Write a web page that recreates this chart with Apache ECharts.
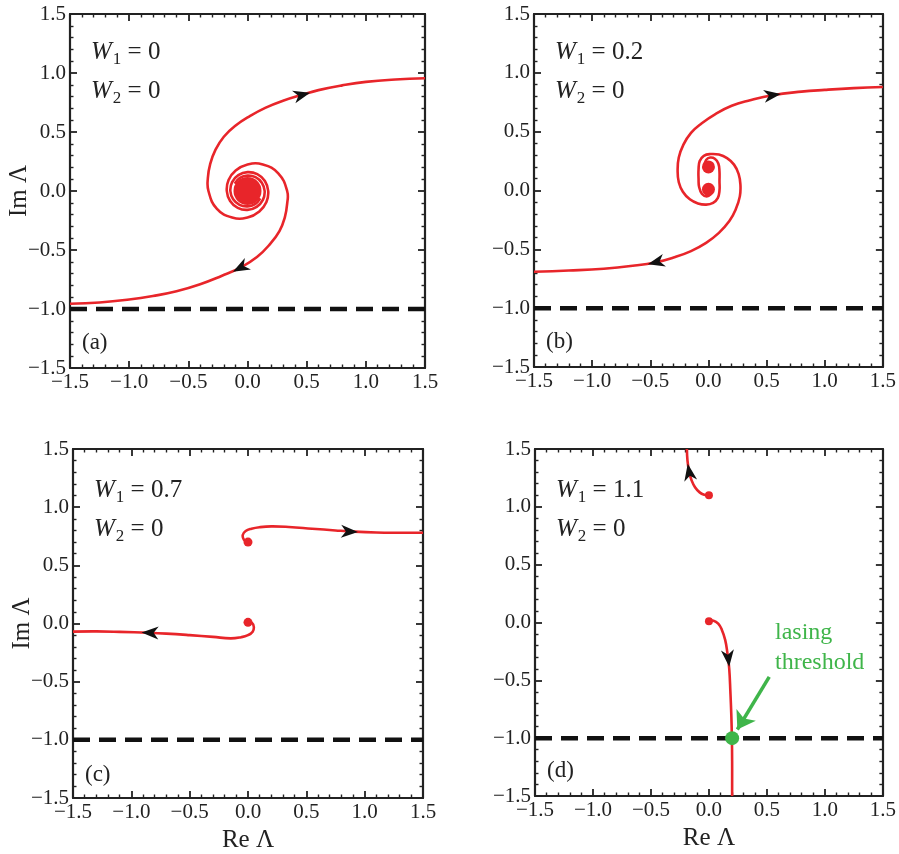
<!DOCTYPE html>
<html><head><meta charset="utf-8">
<script src="https://cdn.jsdelivr.net/npm/echarts/dist/echarts.min.js"></script>
<style>html,body{margin:0;padding:0;background:#fff}#c{width:899px;height:854px}</style>
</head><body><div id="c"></div>
<script>
// ---- data ----
const tickValues = [-1.5, -1.0, -0.5, 0, 0.5, 1.0, 1.5];
const tickLabels = ['\u22121.5', '\u22121.0', '\u22120.5', '0.0', '0.5', '1.0', '1.5'];
const panelTags = ['(a)', '(b)', '(c)', '(d)'];
const w1Values = ['0', '0.2', '0.7', '1.1'];
const w2Values = ['0', '0', '0', '0'];
const thresholdLevel = -1.0;
const xLabel = 'Re \u039B';
const yLabel = 'Im \u039B';
const noteLines = ['lasing', 'threshold'];

// (a) W1 = 0
const aArm1 = [[1.5,0.955],[1.25,0.945],[1.0,0.925],[0.8,0.895],[0.6,0.855],[0.46,0.815],[0.3,0.765],[0.15,0.705],[0.02,0.635],[-0.1,0.555],[-0.2,0.46],[-0.27,0.35],[-0.315,0.23],[-0.335,0.11],[-0.33,0.0],[-0.26,-0.15],[-0.13,-0.225],[0.0,-0.225],[0.1,-0.173],[0.16,-0.0925],[0.175,0.0],[0.147,0.085],[0.0825,0.143],[0.0,0.16],[-0.0775,0.134],[-0.13,0.075],[-0.145,0.0],[-0.121,-0.07],[-0.0675,-0.117],[0.0,-0.13],[0.064,-0.111],[0.108,-0.0625]];
const aArm2 = [[-1.5,-0.955],[-1.25,-0.945],[-1.0,-0.92],[-0.8,-0.89],[-0.6,-0.85],[-0.4,-0.79],[-0.22,-0.72],[-0.06,-0.65],[0.08,-0.56],[0.19,-0.45],[0.27,-0.34],[0.315,-0.225],[0.335,-0.11],[0.335,0.0],[0.26,0.15],[0.13,0.225],[0.0,0.225],[-0.1,0.173],[-0.16,0.0925],[-0.175,0.0],[-0.147,-0.085],[-0.0825,-0.143],[0.0,-0.16],[0.0775,-0.134],[0.13,-0.075],[0.145,0.0],[0.121,0.07],[0.0675,0.117],[0.0,0.13],[-0.064,0.111],[-0.108,0.0625]];
const aDots = [[0, 0]];
const aArrows = [[0.46, 0.815], [-0.06, -0.65]];
const aArrowDeg = [15, 208];

// (b) W1 = 0.2
const bArm1 = [[1.5,0.88],[1.25,0.87],[1.0,0.855],[0.8,0.84],[0.55,0.81],[0.35,0.765],[0.2,0.72],[0.06,0.65],[-0.06,0.57],[-0.15,0.49],[-0.215,0.39],[-0.255,0.28],[-0.265,0.17],[-0.255,0.07],[-0.22,-0.01],[-0.16,-0.075],[-0.09,-0.11],[-0.02,-0.12],[0.04,-0.105],[0.08,-0.065],[0.095,0.0],[0.095,0.08],[0.095,0.16],[0.085,0.23],[0.055,0.27],[0.015,0.28],[-0.02,0.26],[-0.03,0.22]];
const bArm2 = [[-1.5,-0.69],[-1.2,-0.68],[-0.9,-0.665],[-0.65,-0.64],[-0.45,-0.61],[-0.3,-0.57],[-0.15,-0.515],[-0.02,-0.445],[0.09,-0.36],[0.18,-0.26],[0.235,-0.16],[0.27,-0.05],[0.275,0.05],[0.26,0.14],[0.22,0.22],[0.16,0.275],[0.09,0.305],[0.02,0.31],[-0.04,0.295],[-0.075,0.25],[-0.085,0.18],[-0.085,0.1],[-0.08,0.03],[-0.055,-0.03],[-0.015,-0.05],[0.02,-0.03]];
const bDots = [[0, 0.2], [0, 0.01]];
const bArrows = [[0.55, 0.81], [-0.45, -0.61]];
const bArrowDeg = [8, 194];

// (c) W1 = 0.7
const cArm1 = [[0.0,0.695],[-0.035,0.72],[-0.045,0.76],[-0.02,0.795],[0.03,0.815],[0.1,0.828],[0.2,0.835],[0.35,0.83],[0.55,0.815],[0.75,0.8],[0.9,0.79],[1.1,0.782],[1.3,0.78],[1.5,0.78]];
const cArm2 = [[0.0,0.01],[0.035,0.005],[0.05,-0.03],[0.04,-0.07],[0.0,-0.1],[-0.06,-0.118],[-0.15,-0.128],[-0.3,-0.115],[-0.5,-0.1],[-0.7,-0.087],[-0.85,-0.08],[-1.1,-0.072],[-1.3,-0.068],[-1.5,-0.07]];
const cDots = [[0, 0.7], [0, 0.01]];
const cArrows = [[0.87, 0.79], [-0.84, -0.079]];
const cArrowDeg = [-2, 178];

// (d) W1 = 1.1
const dArm1 = [[0.0,1.1],[-0.04,1.105],[-0.08,1.125],[-0.12,1.17],[-0.15,1.23],[-0.17,1.3],[-0.185,1.4],[-0.19,1.5]];
const dArm2 = [[0.0,0.01],[0.04,0.015],[0.08,-0.01],[0.11,-0.06],[0.14,-0.15],[0.16,-0.27],[0.175,-0.4],[0.185,-0.6],[0.193,-0.8],[0.198,-1.0],[0.2,-1.2],[0.2,-1.5]];
const dDots = [[0, 1.1], [0, 0.01]];
const dArrows = [[-0.17, 1.3], [0.167, -0.31]];
const dArrowDeg = [100, -84];
const thresholdPoint = [[0.2, -1.0]];
const pointerFrom = [0.52, -0.47];
const pointerTo = [0.245, -0.925];

// ---- styling / layout ----
const RED = '#e8252a';
const GREEN = '#3fb54a';
const INK = '#222';
const SERIF = 'Liberation Serif, Times New Roman, serif';
const ARROW = 'path://M0,0 L14,5 L0,10 L4,5 Z';

const grids = [
  {left: 70, top: 14, width: 355, height: 354},
  {left: 534, top: 14, width: 352, height: 353},
  {left: 73, top: 449, width: 350, height: 351},
  {left: 535, top: 449, width: 349, height: 347}
];
const panels = [
  {arms: [aArm1, aArm2], dots: aDots, dotSize: 28, arrows: aArrows, deg: aArrowDeg},
  {arms: [bArm1, bArm2], dots: bDots, dotSize: 13, arrows: bArrows, deg: bArrowDeg},
  {arms: [cArm1, cArm2], dots: cDots, dotSize: 9, arrows: cArrows, deg: cArrowDeg},
  {arms: [dArm1, dArm2], dots: dDots, dotSize: 8, arrows: dArrows, deg: dArrowDeg}
];

function fmt(v) {
  const i = tickValues.findIndex(t => Math.abs(t - v) < 1e-9);
  return i >= 0 ? tickLabels[i] : '';
}
function axisBase(i, pos, showLabel) {
  return {
    type: 'value', gridIndex: i, position: pos,
    min: tickValues[0], max: tickValues[tickValues.length - 1], interval: 0.5,
    axisLine: {show: true, onZero: false, lineStyle: {color: INK, width: 2.2}},
    axisTick: {show: true, inside: true, length: 7, lineStyle: {color: INK, width: 1.8}},
    minorTick: {show: true, splitNumber: 5, length: 3.5, lineStyle: {color: INK, width: 1.4}},
    splitLine: {show: false}, minorSplitLine: {show: false},
    axisLabel: {show: showLabel, margin: 4, fontFamily: SERIF, fontSize: 21, color: INK, formatter: fmt}
  };
}
// smooth curve through the arm's points, placed with the cartesian axes (api.coord)
function armSeries(i, arm) {
  return {
    type: 'custom', coordinateSystem: 'cartesian2d', xAxisIndex: 2 * i, yAxisIndex: 2 * i,
    data: arm, silent: true, z: 3, clip: true,
    renderItem: function (params, api) {
      if (params.dataIndex !== 0) return null;
      const pts = arm.map(p => api.coord(p));
      return {type: 'polyline', shape: {points: pts, smooth: 0.45},
        style: {stroke: RED, lineWidth: 2.6, fill: null, lineJoin: 'round'}};
    }
  };
}

const xAxes = [], yAxes = [], series = [], graphics = [];
grids.forEach((g, i) => {
  const xb = axisBase(i, 'bottom', true);
  if (i >= 2) Object.assign(xb, {name: xLabel, nameLocation: 'middle', nameGap: 30,
      nameTextStyle: {fontFamily: SERIF, fontSize: 25, color: INK}});
  xAxes.push(xb, axisBase(i, 'top', false));
  const yl = axisBase(i, 'left', true);
  if (i % 2 === 0) Object.assign(yl, {name: yLabel, nameLocation: 'middle', nameGap: 38, nameRotate: 90,
      nameMoveOverlap: false, nameTextStyle: {fontFamily: SERIF, fontSize: 25, color: INK}});
  yAxes.push(yl, axisBase(i, 'right', false));

  const ax = {xAxisIndex: 2 * i, yAxisIndex: 2 * i};
  const p = panels[i];
  series.push(Object.assign({type: 'line', data: [[tickValues[0], thresholdLevel], [tickValues[6], thresholdLevel]],
    showSymbol: false, silent: true, z: 2,
    lineStyle: {color: '#111', width: 4.5, type: [17, 9], cap: 'butt'}}, ax));
  p.arms.forEach(arm => series.push(armSeries(i, arm)));
  series.push(Object.assign({type: 'scatter', data: p.dots, symbolSize: p.dotSize, silent: true, z: 4,
    itemStyle: {color: RED, opacity: 1}}, ax));
  series.push(Object.assign({type: 'scatter', symbol: ARROW, symbolSize: [17, 13], silent: true, z: 5,
    data: p.arrows.map((a, k) => ({value: a, symbolRotate: p.deg[k]})),
    itemStyle: {color: '#111', opacity: 1}}, ax));

  // parameter labels
  const tx = g.left + 21;
  const ty = g.top + (i < 2 ? 38 : 41);
  const rich = {
    w: {fontFamily: SERIF, fontStyle: 'italic', fontSize: 25, fill: INK},
    s: {fontFamily: SERIF, fontSize: 17, fill: INK, padding: [16, 0, 0, 1]},
    n: {fontFamily: SERIF, fontSize: 25, fill: INK}
  };
  graphics.push({type: 'text', x: tx, y: ty, silent: true,
    style: {text: '{w|W}{s|1}{n| = ' + w1Values[i] + '}', rich: rich, verticalAlign: 'middle', align: 'left'}});
  graphics.push({type: 'text', x: tx, y: ty + 39, silent: true,
    style: {text: '{w|W}{s|2}{n| = ' + w2Values[i] + '}', rich: rich, verticalAlign: 'middle', align: 'left'}});
  graphics.push({type: 'text', x: g.left + 12, y: g.top + g.height - 25, silent: true,
    style: {text: panelTags[i], fontFamily: SERIF, fontSize: 23, fill: INK, verticalAlign: 'middle', align: 'left'}});
});

// panel (d) extras
series.push({type: 'scatter', xAxisIndex: 6, yAxisIndex: 6, data: thresholdPoint, symbolSize: 14, z: 7, silent: true,
  itemStyle: {color: GREEN, opacity: 1},
  markLine: {silent: true, symbol: ['none', 'arrow'], symbolSize: 17, animation: false,
    lineStyle: {color: GREEN, width: 3.5, type: 'solid'}, label: {show: false},
    data: [[{coord: pointerFrom}, {coord: pointerTo}]]}});
graphics.push({type: 'text', x: 775, y: 648, silent: true,
  style: {text: noteLines.join('\n'), fontFamily: SERIF, fontSize: 24, lineHeight: 30, fill: GREEN,
    verticalAlign: 'middle', align: 'left'}});

const chart = echarts.init(document.getElementById('c'), null, {renderer: 'canvas'});
chart.setOption({
  animation: false,
  backgroundColor: '#fff',
  grid: grids.map(g => Object.assign({containLabel: false}, g)),
  xAxis: xAxes, yAxis: yAxes, series: series, graphic: graphics
});
</script></body></html>
